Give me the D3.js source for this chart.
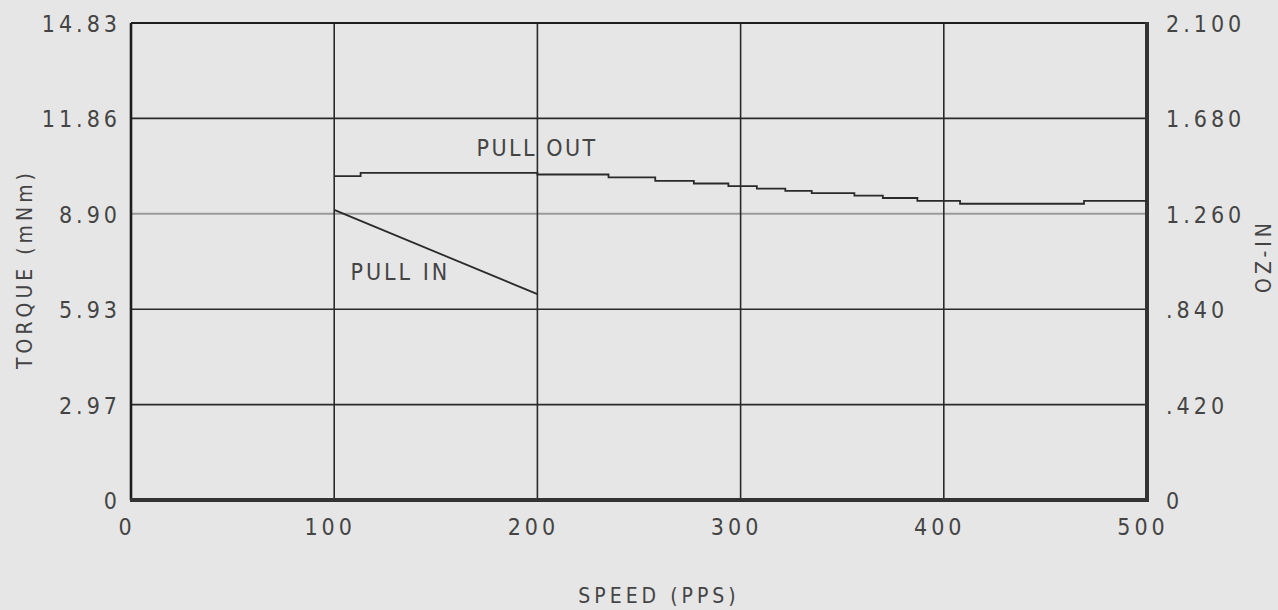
<!DOCTYPE html>
<html>
<head>
<meta charset="utf-8">
<script src="https://cdn.jsdelivr.net/npm/d3@7"></script>
<style>
  html, body { margin: 0; padding: 0; background: #e6e6e6; overflow: hidden; }
  svg { display: block; }
  .lbl { font-family: "Liberation Sans Narrow", "DejaVu Sans Condensed", "Liberation Sans", sans-serif;
         font-stretch: condensed; fill: #444; letter-spacing: 4px; }
</style>
</head>
<body>
<svg id="chart" width="1278" height="610"></svg>
<script>
// axis ranges and tick labels
const speedTicks = [0, 100, 200, 300, 400, 500];
const torqueTicks = [0, 2.966, 5.932, 8.898, 11.864, 14.83];
const torqueLabels = ["0", "2.97", "5.93", "8.90", "11.86", "14.83"];
const ozinLabels = ["0", ".420", ".840", "1.260", "1.680", "2.100"];

// curves (speed pps, torque mNm)
const pullOutSpeed  = [100, 113, 200, 235, 258, 277, 294, 308, 322, 335, 356, 370, 387, 408, 469, 500];
const pullOutTorque = [10.07, 10.17, 10.12, 10.03, 9.92, 9.84, 9.76, 9.68, 9.61, 9.54, 9.46, 9.39, 9.30, 9.21, 9.30, 9.30];
const pullInSpeed  = [100, 200];
const pullInTorque = [9.02, 6.40];

const svg = d3.select("#chart");
const margin = { top: 23, left: 131, right: 131, bottom: 110 };
const innerWidth = 1147 - margin.left;
const innerHeight = 500 - margin.top;
const g = svg.append("g").attr("transform", "translate(" + margin.left + "," + margin.top + ")");

const x = d3.scaleLinear().domain([0, 500]).range([0, innerWidth]);
const y = d3.scaleLinear().domain([0, 14.83]).range([innerHeight, 0]);

// grid lines
g.selectAll(".hgrid").data(torqueTicks.slice(1, 5)).enter().append("line")
    .attr("x1", 0).attr("x2", innerWidth)
    .attr("y1", d => y(d)).attr("y2", d => y(d))
    .attr("stroke", (d, i) => i == 2 ? "#9a9a9a" : "#2a2a2a")
    .attr("stroke-width", (d, i) => i == 2 ? 2 : 1.6);
g.selectAll(".vgrid").data(speedTicks.slice(1, 5)).enter().append("line")
    .attr("y1", 0).attr("y2", innerHeight)
    .attr("x1", d => x(d)).attr("x2", d => x(d))
    .attr("stroke", "#2a2a2a").attr("stroke-width", 1.6);

// frame
g.append("line").attr("x1", 0).attr("x2", innerWidth).attr("y1", 0).attr("y2", 0)
    .attr("stroke", "#1e1e1e").attr("stroke-width", 2.2);
g.append("line").attr("x1", 0).attr("x2", 0).attr("y1", 0).attr("y2", innerHeight)
    .attr("stroke", "#1e1e1e").attr("stroke-width", 2.6);
g.append("line").attr("x1", innerWidth).attr("x2", innerWidth).attr("y1", -1).attr("y2", innerHeight + 2)
    .attr("stroke", "#333").attr("stroke-width", 4);
g.append("line").attr("x1", -1).attr("x2", innerWidth + 2).attr("y1", innerHeight).attr("y2", innerHeight)
    .attr("stroke", "#333").attr("stroke-width", 4);

// curves
const line = d3.line().x(d => x(d[0])).y(d => y(d[1]));
g.append("path").datum(d3.zip(pullOutSpeed, pullOutTorque))
    .attr("d", line.curve(d3.curveStepAfter))
    .attr("fill", "none").attr("stroke", "#2a2a2a").attr("stroke-width", 1.8);
g.append("path").datum(d3.zip(pullInSpeed, pullInTorque))
    .attr("d", d3.line().x(d => x(d[0])).y(d => y(d[1])))
    .attr("fill", "none").attr("stroke", "#2a2a2a").attr("stroke-width", 1.8);

// curve labels
g.append("text").attr("class", "lbl").attr("x", x(170)).attr("y", y(10.7))
    .style("font-size", "23px").style("letter-spacing", "2.5px").text("PULL OUT");
g.append("text").attr("class", "lbl").attr("x", x(108)).attr("y", y(6.85))
    .style("font-size", "23px").style("letter-spacing", "3px").text("PULL IN");

// left axis labels
g.selectAll(".ylab").data(torqueTicks).enter().append("text")
    .attr("class", "lbl").attr("x", -10).attr("y", d => y(d) + 9)
    .attr("text-anchor", "end").style("font-size", "23px")
    .text((d, i) => torqueLabels[i]);

// right axis labels
g.selectAll(".y2lab").data(torqueTicks).enter().append("text")
    .attr("class", "lbl").attr("x", innerWidth + 19).attr("y", d => y(d) + 9)
    .style("font-size", "23px")
    .text((d, i) => ozinLabels[i]);

// bottom axis labels
g.selectAll(".xlab").data(speedTicks).enter().append("text")
    .attr("class", "lbl").attr("x", d => x(d) - 4).attr("y", innerHeight + 35)
    .attr("text-anchor", "middle").style("font-size", "23px")
    .text(d => d);

// axis titles
svg.append("text").attr("class", "lbl")
    .attr("transform", "translate(32,269) rotate(-90)")
    .attr("text-anchor", "middle").style("font-size", "21px").text("TORQUE (mNm)");
svg.append("text").attr("class", "lbl")
    .attr("transform", "translate(1271,256) rotate(-90)")
    .attr("text-anchor", "middle").style("font-size", "21px").text("OZ-IN");
svg.append("text").attr("class", "lbl")
    .attr("x", 659).attr("y", 603)
    .attr("text-anchor", "middle").style("font-size", "21px").text("SPEED (PPS)");
</script>
</body>
</html>
